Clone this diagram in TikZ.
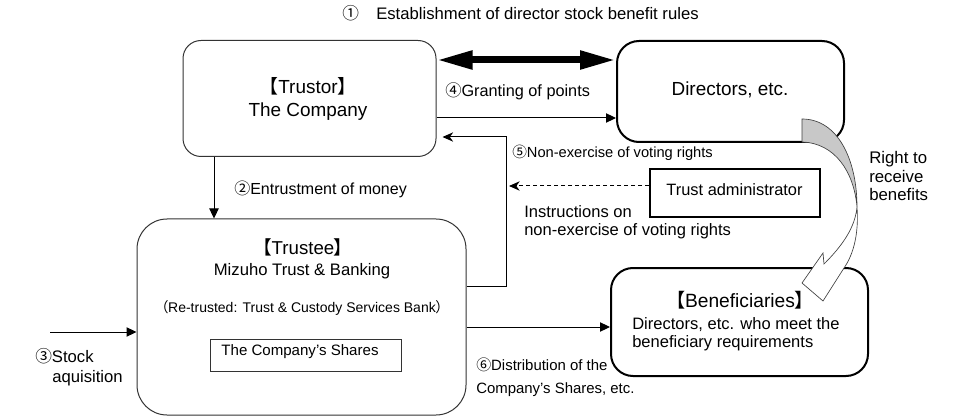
\documentclass[tikz,border=0pt]{standalone}
\usepackage{fontspec}
\setmainfont{Liberation Sans}
\newfontfamily\cjk[RawFeature=+palt]{Noto Sans CJK JP}
\usetikzlibrary{arrows.meta}
\definecolor{arrgray}{RGB}{200,200,200}
\begin{document}
\begin{tikzpicture}[x=0.75pt,y=-0.75pt,
  thinbox/.style={draw=black!80,line width=0.75pt,inner sep=0pt},
  thickbox/.style={draw=black,line width=1.5pt,inner sep=0pt},
  txt/.style={inner sep=0pt,anchor=base west},
  ctxt/.style={inner sep=0pt,anchor=base},
  conn/.style={draw=black,line width=0.75pt,-{Triangle[length=7.5pt,width=7pt]}},
  stl/.style={draw=black,line width=0.75pt,-{Stealth[length=8pt,width=7pt,inset=2.5pt]}},
  dblarrow/.style={draw=black,line width=5.25pt,{Triangle[length=27pt,width=13pt]}-{Triangle[length=27pt,width=13pt]}}
]
\path[use as bounding box] (0,0) rectangle (970,420);

% helper coordinates
\coordinate (y60) at (0,60);
\coordinate (y118) at (0,118);
\coordinate (y137) at (0,137);
\coordinate (y186) at (0,186);
\coordinate (y286) at (0,286);
\coordinate (y327) at (0,327);
\coordinate (x214) at (214,0);
\coordinate (x506) at (506,0);
\coordinate (s3) at (50,332);
\coordinate (dend) at (509,186);

% title
\node[txt,font=\fontsize{12.5}{15}\selectfont] (title) at (342,20) {{\cjk ①}\hspace{13pt}Establishment of director stock benefit rules};

% boxes
\node[thinbox,rounded corners=13.5pt,minimum width=189.75pt,minimum height=87pt] (trustor) at (309.5,98.5) {};
\node[ctxt,font=\fontsize{14.2}{17}\selectfont] (trustorT) at (308,94) {{\cjk 【}Trustor{\cjk 】}};
\node[ctxt,font=\fontsize{14.2}{17}\selectfont] (trustorC) at (308,117) {The Company};

\node[thickbox,rounded corners=16.5pt,minimum width=170.25pt,minimum height=75.75pt,font=\fontsize{14.2}{17}\selectfont] (directors) at (730.5,91.5) {};
\node[ctxt,font=\fontsize{14.2}{17}\selectfont] (directorsT) at (730,96) {Directors, etc.};

\node[thinbox,rounded corners=22.5pt,minimum width=246.75pt,minimum height=147pt] (trustee) at (301.5,317) {};
\node[ctxt,font=\fontsize{14}{17}\selectfont] (trusteeT) at (303,254) {{\cjk 【}Trustee{\cjk 】}};
\node[ctxt,font=\fontsize{12.5}{15}\selectfont] (mizuho) at (302,275) {Mizuho Trust \& Banking};
\node[ctxt,font=\fontsize{10.5}{13}\selectfont] (retrust) at (302,312) {{\cjk （}Re-trusted: Trust \& Custody Services Bank{\cjk ）}};
\node[thinbox,minimum width=143.25pt,minimum height=24pt] (shares) at (305.5,355) {};
\node[ctxt,font=\fontsize{11.3}{13}\selectfont] (sharesT) at (300,355) {The Company's Shares};

\node[thickbox,minimum width=127.5pt,minimum height=36pt] (admin) at (735,193) {};
\node[ctxt,font=\fontsize{12.3}{15}\selectfont] (adminT) at (734.5,196) {Trust administrator};

\node[thickbox,rounded corners=16.5pt,minimum width=192.75pt,minimum height=81pt] (benef) at (739.5,322) {};
\node[ctxt,font=\fontsize{14.4}{17}\selectfont] (benefT) at (740,307) {{\cjk 【}Beneficiaries{\cjk 】}};
\node[txt,font=\fontsize{12.4}{15}\selectfont] (benefD1) at (632,329) {Directors, etc. who meet the};
\node[txt,font=\fontsize{12.4}{15}\selectfont] (benefD2) at (632,347) {beneficiary requirements};

% connectors
\draw[dblarrow] (trustor.east |- y60) -- (directors.west |- y60);
\draw[conn] (trustor.east |- y118) -- (directors.west |- y118);
\node[txt,font=\fontsize{12.2}{15}\selectfont] (l4) at (445,97) {{\cjk ④}Granting of points};

\draw[stl] (trustee.east |- y286) -- (x506 |- y286) -- (x506 |- y137) -- ([xshift=4.5pt]trustor.east |- y137);
\node[txt,font=\fontsize{11}{14}\selectfont] (l5) at (512,158) {{\cjk ⑤}Non-exercise of voting rights};

\draw[stl,dash pattern=on 3pt off 2.25pt] (admin.west |- y186) -- (dend);
\node[txt,font=\fontsize{12.4}{15}\selectfont] (instr1) at (524,218) {Instructions on};
\node[txt,font=\fontsize{12.4}{15}\selectfont] (instr2) at (524,236) {non-exercise of voting rights};

\draw[conn] (trustor.south -| x214) -- (trustee.north -| x214);
\node[txt,font=\fontsize{12}{15}\selectfont] (l2) at (234,195) {{\cjk ②}Entrustment of money};

\draw[conn] (s3) -- (trustee.west |- s3);
\node[txt,font=\fontsize{12.5}{15}\selectfont] (l3a) at (35,362) {{\cjk ③}Stock};
\node[txt,font=\fontsize{12.5}{15}\selectfont] (l3b) at (52,382) {aquisition};

\draw[conn] (trustee.east |- y327) -- (benef.west |- y327);
\node[txt,font=\fontsize{11.2}{14}\selectfont] (l6a) at (476,370) {{\cjk ⑥}Distribution of the};
\node[txt,font=\fontsize{11.2}{14}\selectfont] (l6b) at (476,393) {Company's Shares, etc.};

% curved arrow: right to receive benefits
\filldraw[fill=arrgray,draw=black!75,line width=0.5pt]
  (802,119) .. controls (838,119) and (857,160) .. (857,207)
  .. controls (854,172) and (835,143) .. (802,142) -- cycle;
\filldraw[fill=white,draw=black!75,line width=0.5pt]
  (857,207) .. controls (859,235) and (853,255) .. (844,268)
  -- (823,301) -- (802,283) -- (823,253) -- (824,264)
  .. controls (842,246) and (855,228) .. (857,207);
\node[txt,font=\fontsize{12.6}{15}\selectfont] (r1) at (869,164) {Right to};
\node[txt,font=\fontsize{12.6}{15}\selectfont] (r2) at (869,183) {receive};
\node[txt,font=\fontsize{12.6}{15}\selectfont] (r3) at (869,201) {benefits};
\end{tikzpicture}
\end{document}
